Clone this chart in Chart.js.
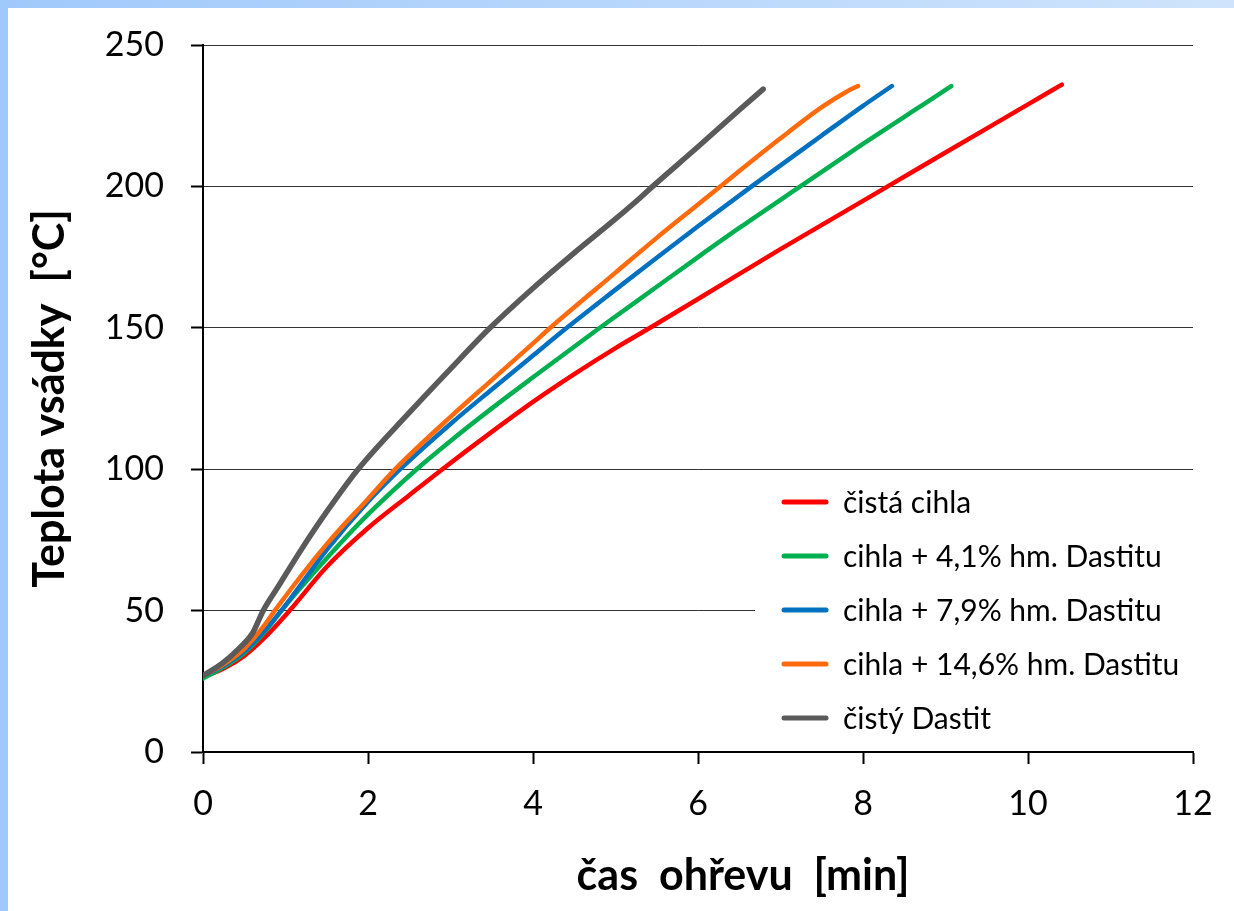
<!DOCTYPE html>
<html>
<head>
<meta charset="utf-8">
<script src="https://cdn.jsdelivr.net/npm/chart.js@4.4.1/dist/chart.umd.min.js"></script>
<style>
  html, body { margin: 0; padding: 0; }
  body {
    width: 1234px; height: 911px; overflow: hidden;
    background: linear-gradient(to right, #a0c9fb, #cfe4fc);
  }
  #wrap {
    position: absolute; left: 8px; top: 8px;
    width: 1226px; height: 903px; background: #fff;
  }
</style>
</head>
<body>
<div id="wrap"><canvas id="graf" width="1226" height="903"></canvas></div>
<script>
// casy [min] a teploty [°C]
const nazvy = ["čistá cihla", "cihla + 4,1% hm. Dastitu", "cihla + 7,9% hm. Dastitu", "cihla + 14,6% hm. Dastitu", "čistý Dastit"];
const barvy = ["#ff0000", "#00b050", "#0070c0", "#ff6a0d", "#5a5a5a"];

const casCihla = [0, 0.25, 0.5, 0.75, 1.05, 1.5, 2, 2.5, 2.87, 3.5, 4, 4.5, 5, 5.42, 6, 7, 8.3, 9, 10, 10.41];
const tepCihla = [26.5, 29.5, 34, 40.5, 50, 65.5, 79.2, 90.8, 99.3, 113.2, 123.8, 133.6, 142.8, 150, 160.2, 177.8, 200, 212, 229, 236];

const cas41 = [0, 0.25, 0.5, 0.75, 0.95, 1.5, 2, 2.59, 3, 3.5, 4, 4.81, 5.5, 6, 6.5, 7.24, 8, 8.6, 8.9, 9.07];
const tep41 = [26, 30, 35, 42.5, 50, 68.5, 84, 100, 110, 121.5, 132.5, 150, 164.5, 175, 185.3, 200, 215, 226.5, 232.2, 235.5];

const cas79 = [0, 0.25, 0.5, 0.75, 0.95, 1.5, 2, 2.39, 3, 3.5, 4, 4.41, 5, 5.5, 6, 6.65, 7.5, 8, 8.2, 8.35];
const tep79 = [27, 30.5, 35.5, 43, 50, 71.5, 88.5, 100, 116, 128.2, 140.2, 150, 163.5, 174.8, 185.9, 200, 218, 228.5, 232.5, 235.5];

const cas146 = [0, 0.25, 0.5, 0.75, 0.87, 1.5, 2, 2.33, 3, 3.5, 4, 4.21, 5, 5.5, 6, 6.27, 7, 7.5, 7.8, 7.94];
const tep146 = [27, 31, 36.5, 45, 50, 73.5, 89.5, 100, 118.5, 131.5, 144.5, 150, 169.5, 181.8, 193.6, 200, 217, 228, 233.5, 235.5];

const casDastit = [0, 0.24, 0.45, 0.6, 0.73, 0.9, 1.2, 1.5, 1.88, 2.5, 3, 3.48, 4, 4.5, 5, 5.3, 5.45, 6, 6.5, 6.79];
const tepDastit = [27, 31.5, 37, 42, 50, 58, 72, 85, 100, 120, 135.5, 150, 164, 176.5, 188.5, 196, 200, 214, 227, 234.4];

const yTicks = [0, 50, 100, 150, 200, 250];
const xTicks = [0, 2, 4, 6, 8, 10, 12];

const casy = [casCihla, cas41, cas79, cas146, casDastit];
const teploty = [tepCihla, tep41, tep79, tep146, tepDastit];

const body = (c, t) => c.map((x, i) => ({ x, y: t[i] }));

const datasets = nazvy.map((n, i) => ({
  label: n,
  data: body(casy[i], teploty[i]),
  borderColor: barvy[i],
  borderWidth: i === 4 ? 5.5 : 4.5,
  pointRadius: 0,
  cubicInterpolationMode: "monotone",
  borderCapStyle: "round",
  order: 5 - i,
}));

// legenda a popisek osy x kreslene rucne
const legendaPlugin = {
  id: "legenda",
  beforeDatasetsDraw(chart) {
    const ctx = chart.ctx;
    ctx.save();
    ctx.fillStyle = "#fff";
    ctx.fillRect(747, 472, chart.chartArea.right - 747, 264);
    ctx.font = "30px Lato";
    ctx.textBaseline = "middle";
    nazvy.forEach((n, i) => {
      const y = 494 + i * 54;
      ctx.strokeStyle = barvy[i];
      ctx.lineWidth = 5;
      ctx.lineCap = "round";
      ctx.beginPath();
      ctx.moveTo(776, y);
      ctx.lineTo(818, y);
      ctx.stroke();
      ctx.fillStyle = "#000";
      ctx.fillText(n, 835, y + 1);
    });
    ctx.restore();
  },
  afterDraw(chart) {
    const ctx = chart.ctx;
    ctx.save();
    ctx.font = "bold 43px Lato";
    ctx.fillStyle = "#000";
    ctx.textAlign = "center";
    ctx.textBaseline = "middle";
    ctx.fillText("čas  ohřevu  [min]", 735, 868);
    ctx.restore();
  },
};

new Chart(document.getElementById("graf"), {
  type: "line",
  data: { datasets },
  plugins: [legendaPlugin],
  options: {
    responsive: false,
    animation: false,
    layout: { padding: { top: 37, right: 41, left: 0, bottom: 0 } },
    plugins: { legend: { display: false }, tooltip: { enabled: false } },
    scales: {
      x: {
        type: "linear",
        min: 0, max: 12,
        afterBuildTicks: s => { s.ticks = xTicks.map(v => ({ value: v })); },
        afterFit: s => { s.height = 159; },
        ticks: { color: "#000", font: { family: "Lato", size: 34 }, padding: 20, maxRotation: 0 },
        grid: { drawOnChartArea: false, drawTicks: true, tickLength: 12, tickColor: "#000", tickWidth: 2 },
        border: { color: "#000", width: 2 },
      },
      y: {
        min: 0, max: 250,
        afterBuildTicks: s => { s.ticks = yTicks.map(v => ({ value: v })); },
        afterFit: s => { s.width = 195; s.paddingTop = 0; s.paddingBottom = 0; },
        ticks: { color: "#000", font: { family: "Lato", size: 34 }, padding: 27 },
        grid: { color: "#333", lineWidth: 1, drawTicks: true, tickLength: 12, tickColor: "#000", tickWidth: 2 },
        border: { color: "#000", width: 2 },
        title: {
          display: true,
          text: "Teplota vsádky  [°C]",
          color: "#000",
          font: { family: "Lato", size: 43, weight: "bold" },
          padding: { top: 16, bottom: 0 },
        },
      },
    },
  },
});
</script>
</body>
</html>
